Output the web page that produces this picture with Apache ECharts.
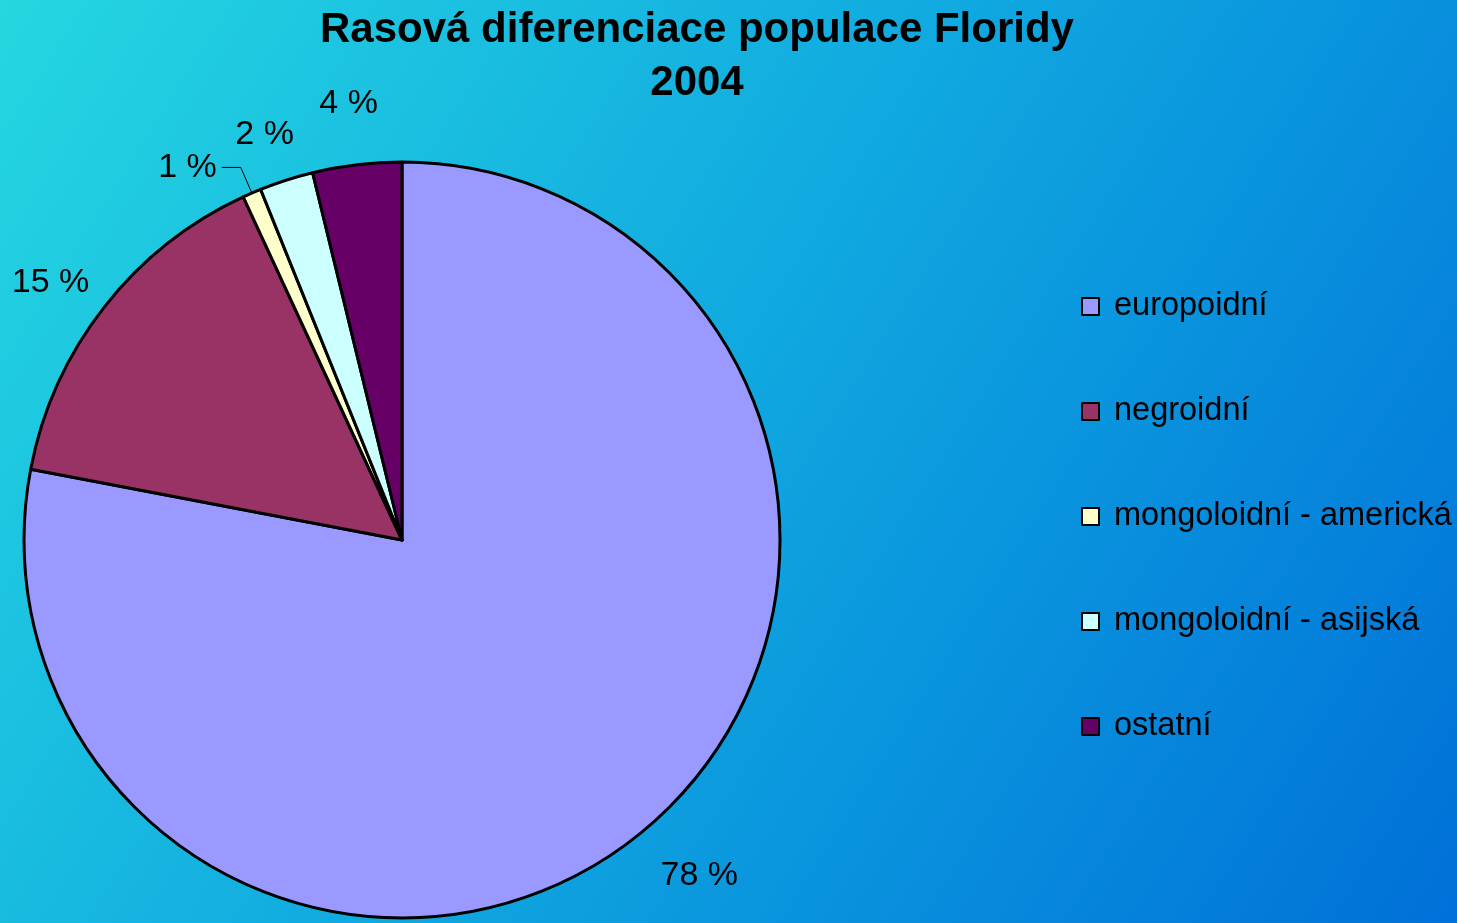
<!DOCTYPE html>
<html>
<head>
<meta charset="utf-8">
<script src="https://cdn.jsdelivr.net/npm/echarts@6/dist/echarts.min.js"></script>
<style>
html,body{margin:0;padding:0;}
#chart{width:1457px;height:923px;}
</style>
</head>
<body>
<div id="chart"></div>
<script>
const titleText = 'Rasová diferenciace populace Floridy\n2004';
const categories = ['europoidní', 'negroidní', 'mongoloidní - americká', 'mongoloidní - asijská', 'ostatní'];
const values = [78.0, 15.1, 0.8, 2.3, 3.8];
const colors = ['#9999FF', '#993366', '#FFFFCC', '#CCFFFF', '#660066'];
// label line tuning per slice: [radial length, horizontal length, show leader line]
const labelTuning = [[57, 20, false], [40, 22, false], [28, 19, true], [48, 7, false], [62, 1, false]];

const chart = echarts.init(document.getElementById('chart'));
const FONT = '"Liberation Sans", Arial, sans-serif';

const data = categories.map((name, i) => {
  const t = labelTuning[i];
  return {
    name: name,
    value: values[i],
    itemStyle: { color: colors[i] },
    labelLine: { show: t[2], length: t[0], length2: t[1], lineStyle: { color: '#000', width: 1 } },
    label: { distanceToLabelLine: t[2] ? 5 : 0 }
  };
});

chart.setOption({
  backgroundColor: {
    type: 'linear', x: 0, y: 0, x2: 1, y2: 1,
    colorStops: [
      { offset: 0, color: '#25D7E0' },
      { offset: 0.5, color: '#0FA6E0' },
      { offset: 1, color: '#0070D8' }
    ]
  },
  title: {
    text: titleText,
    left: 697,
    top: 4,
    padding: 0,
    textAlign: 'center',
    textStyle: {
      fontFamily: FONT,
      fontWeight: 'bold',
      fontSize: 42,
      lineHeight: 53,
      color: '#000'
    }
  },
  legend: {
    orient: 'vertical',
    left: 1081,
    top: 290,
    padding: 0,
    icon: 'rect',
    itemWidth: 17,
    itemHeight: 17,
    itemGap: 72,
    itemStyle: { borderColor: '#000', borderWidth: 2 },
    textStyle: {
      fontFamily: FONT,
      fontSize: 32.5,
      lineHeight: 32,
      color: '#000',
      padding: [0, 0, 0, 10]
    },
    data: categories
  },
  series: [{
    type: 'pie',
    center: [402, 540],
    radius: 378,
    startAngle: 90,
    clockwise: true,
    avoidLabelOverlap: false,
    animation: false,
    itemStyle: { borderColor: '#000', borderWidth: 3 },
    emphasis: { disabled: true },
    label: {
      show: true,
      position: 'outside',
      fontFamily: FONT,
      fontSize: 34,
      color: '#000',
      formatter: function (p) { return Math.round(p.value) + ' %'; }
    },
    labelLayout: function (params) {
      if (labelTuning[params.dataIndex][2]) return {};
      const w = params.labelRect.width;
      return { dx: params.align === 'left' ? -w / 2 : w / 2 };
    },
    data: data
  }]
});
</script>
</body>
</html>
